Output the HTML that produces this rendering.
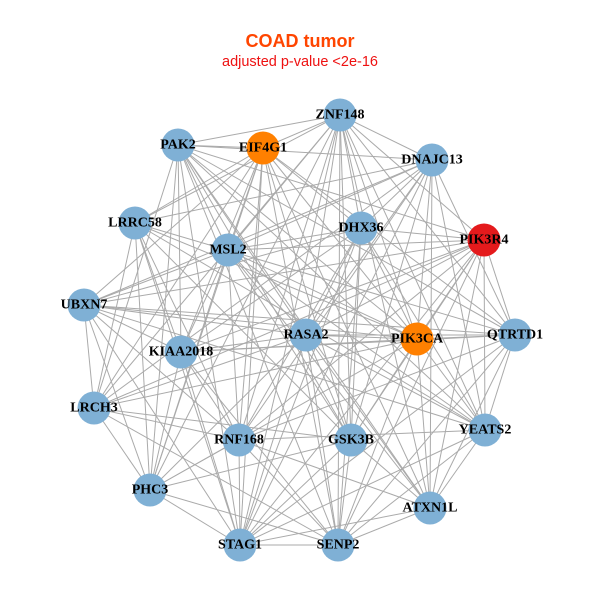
<!DOCTYPE html>
<html><head><meta charset="utf-8"><style>
html,body{margin:0;padding:0;background:#fff;width:600px;height:600px;overflow:hidden}
svg{display:block}
.l{font-family:"Liberation Serif",serif;font-weight:bold;font-size:14px;fill:#000;text-anchor:middle;dominant-baseline:central}
</style></head><body>
<svg id="s" width="600" height="600" xmlns="http://www.w3.org/2000/svg">
<text x="300" y="47" text-anchor="middle" font-family="Liberation Sans,sans-serif" font-weight="bold" font-size="18" fill="#ff4500">COAD tumor</text>
<text x="300" y="66" text-anchor="middle" font-family="Liberation Sans,sans-serif" font-size="14.5" fill="#ee1111">adjusted p-value &lt;2e-16</text>
<g id="e" stroke="#aaaaaa" stroke-width="1"></g>
<g id="n"></g>
</svg>
<script>
var N=[["ZNF148",340,115,"#7fb0d5"],["PAK2",178,145,"#7fb0d5"],["EIF4G1",263,148,"#ff8000"],["DNAJC13",432,160,"#7fb0d5"],["LRRC58",135,223,"#7fb0d5"],["DHX36",361,228,"#7fb0d5"],["MSL2",228,250,"#7fb0d5"],["PIK3R4",484,240,"#e41a1c"],["UBXN7",84,305,"#7fb0d5"],["RASA2",306,335,"#7fb0d5"],["PIK3CA",417,339,"#ff8000"],["QTRTD1",515,335,"#7fb0d5"],["KIAA2018",181,352,"#7fb0d5"],["LRCH3",94,408,"#7fb0d5"],["YEATS2",485,430,"#7fb0d5"],["RNF168",239,440,"#7fb0d5"],["GSK3B",351,440,"#7fb0d5"],["PHC3",150,490,"#7fb0d5"],["ATXN1L",430,508,"#7fb0d5"],["STAG1",240,545,"#7fb0d5"],["SENP2",338,545,"#7fb0d5"]];
var e="",n="",seed=7;function r(){seed=(seed*9301+49297)%233280;return seed/233280}
for(var i=0;i<N.length;i++)for(var j=i+1;j<N.length;j++){if(r()<0.72)e+='<line x1="'+N[i][1]+'" y1="'+N[i][2]+'" x2="'+N[j][1]+'" y2="'+N[j][2]+'"/>';}
for(var i=0;i<N.length;i++){n+='<circle cx="'+N[i][1]+'" cy="'+N[i][2]+'" r="16.5" fill="'+N[i][3]+'"/><text class="l" x="'+N[i][1]+'" y="'+N[i][2]+'">'+N[i][0]+'</text>';}
document.getElementById("e").innerHTML=e;document.getElementById("n").innerHTML=n;
</script>
</body></html>
